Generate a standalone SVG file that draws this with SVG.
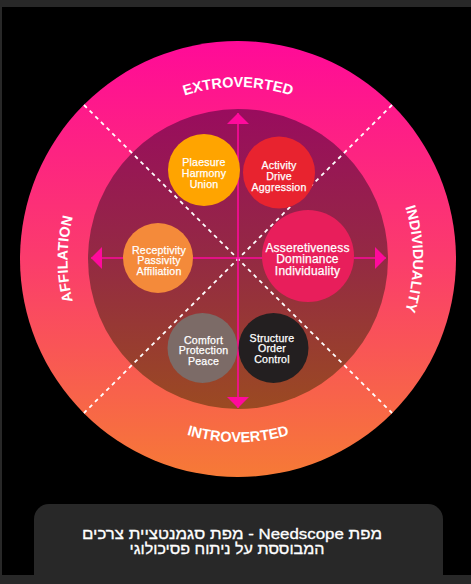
<svg xmlns="http://www.w3.org/2000/svg" width="471" height="584" viewBox="0 0 471 584">
<style>
.ring{fill:#FFFFFF;font-family:"Liberation Sans",Arial,sans-serif;font-size:14.5px;font-weight:bold;}
.lbl{fill:#FFFFFF;stroke:#FFFFFF;stroke-width:0.25px;font-family:"Liberation Sans",Arial,sans-serif;font-size:10.6px;text-anchor:middle;letter-spacing:0.2px;}
.lblbig{font-size:12px;}
.dash{stroke:#FFFFFF;stroke-width:1.8;stroke-dasharray:4 4;fill:none;}
.axis{stroke:#FF0A9C;stroke-width:1.6;fill:none;marker-start:url(#arr);marker-end:url(#arr);}
.cap{fill:#FFFFFF;stroke:#FFFFFF;stroke-width:0.3px;font-family:"Liberation Sans","Noto Sans",Arial,sans-serif;font-size:15px;text-anchor:middle;}
.band{fill:#282828;}
</style>
<defs>
<linearGradient id="gOuter" x1="0" y1="0" x2="0" y2="1">
<stop offset="0" stop-color="#FF0A98"/>
<stop offset="0.5" stop-color="#FB3C6C"/>
<stop offset="1" stop-color="#F67A36"/>
</linearGradient>
<linearGradient id="gInner" x1="0" y1="0" x2="0" y2="1">
<stop offset="0" stop-color="#990C5E"/>
<stop offset="0.5" stop-color="#942A43"/>
<stop offset="1" stop-color="#9B4A22"/>
</linearGradient>
<marker id="arr" viewBox="0 0 11 22" refX="11" refY="11" markerWidth="11" markerHeight="22" orient="auto-start-reverse" markerUnits="userSpaceOnUse">
<path d="M0,0 L11,11 L0,22 Z" fill="#FF0A9C"/>
</marker>
<path id="pTop" d="M76.4,200.2 A172,172 0 0,1 399.6,200.2"/>
<path id="pBottom" d="M66,321.6 A183,183 0 0,0 410,321.6"/>
<path id="pLeft" d="M153.5,406.2 A169,169 0 0,1 153.5,111.8"/>
<path id="pRight" d="M325.5,107.4 A175,175 0 0,1 325.5,410.6"/>
</defs>

<rect x="0" y="0" width="471" height="584" fill="#000000"/>
<rect class="band" x="0" y="0" width="471" height="7"/>
<rect class="band" x="0" y="0" width="2" height="584"/>

<g id="rings">
<circle cx="238" cy="259" r="218" fill="url(#gOuter)"/>
<circle cx="238" cy="259" r="150" fill="url(#gInner)"/>
<text class="ring"><textPath href="#pTop" startOffset="50%" text-anchor="middle">EXTROVERTED</textPath></text>
<text class="ring"><textPath href="#pBottom" startOffset="50%" text-anchor="middle">INTROVERTED</textPath></text>
<text class="ring"><textPath href="#pLeft" startOffset="50%" text-anchor="middle">AFFILATION</textPath></text>
<text class="ring"><textPath href="#pRight" startOffset="50%" text-anchor="middle">INDIVIDUALITY</textPath></text>
</g>

<g id="connectors">
<line class="dash" x1="84" y1="105" x2="392" y2="413"/>
<line class="dash" x1="392" y1="105" x2="84" y2="413"/>
<line class="axis" x1="238" y1="113" x2="238" y2="408"/>
<line class="axis" x1="91" y1="258" x2="386" y2="258"/>
</g>

<g id="node-pleasure">
<circle cx="204" cy="170" r="36" fill="#FFA400"/>
<text class="lbl"><tspan x="204" y="166">Plaesure</tspan><tspan x="204" y="177">Harmony</tspan><tspan x="204" y="188">Union</tspan></text>
</g>
<g id="node-activity">
<circle cx="279" cy="172.5" r="36" fill="#E8232F"/>
<text class="lbl"><tspan x="279" y="169">Activity</tspan><tspan x="279" y="180">Drive</tspan><tspan x="279" y="190.5">Aggression</tspan></text>
</g>
<g id="node-receptivity">
<circle cx="158" cy="258" r="35" fill="#F48A3A"/>
<text class="lbl"><tspan x="159" y="253.5">Receptivity</tspan><tspan x="159" y="264">Passivity</tspan><tspan x="159" y="274.5">Affiliation</tspan></text>
</g>
<g id="node-assertiveness">
<circle cx="308" cy="256" r="46" fill="#E81E5B"/>
<text class="lbl lblbig"><tspan x="307.5" y="251.7">Asseretiveness</tspan><tspan x="307.5" y="263.3">Dominance</tspan><tspan x="307.5" y="275">Individuality</tspan></text>
</g>
<g id="node-comfort">
<circle cx="202.5" cy="348" r="35" fill="#7C6B67"/>
<text class="lbl"><tspan x="203.5" y="343.5">Comfort</tspan><tspan x="203.5" y="354.3">Protection</tspan><tspan x="203.5" y="365">Peace</tspan></text>
</g>
<g id="node-structure">
<circle cx="273.5" cy="348" r="35" fill="#231F20"/>
<text class="lbl"><tspan x="272" y="341.7">Structure</tspan><tspan x="272" y="352.3">Order</tspan><tspan x="272" y="363.3">Control</tspan></text>
</g>

<g id="caption">
<rect class="band" x="34" y="504" width="409" height="90" rx="15" ry="15"/>
<rect class="band" x="0" y="575" width="471" height="9"/>
<text class="cap" direction="rtl" x="232" y="539.3" textLength="300" lengthAdjust="spacingAndGlyphs">מפת Needscope - מפת סגמנטציית צרכים</text>
<text class="cap" direction="rtl" x="227" y="553.5" textLength="195" lengthAdjust="spacingAndGlyphs">המבוססת על ניתוח פסיכולוגי</text>
</g>
</svg>
